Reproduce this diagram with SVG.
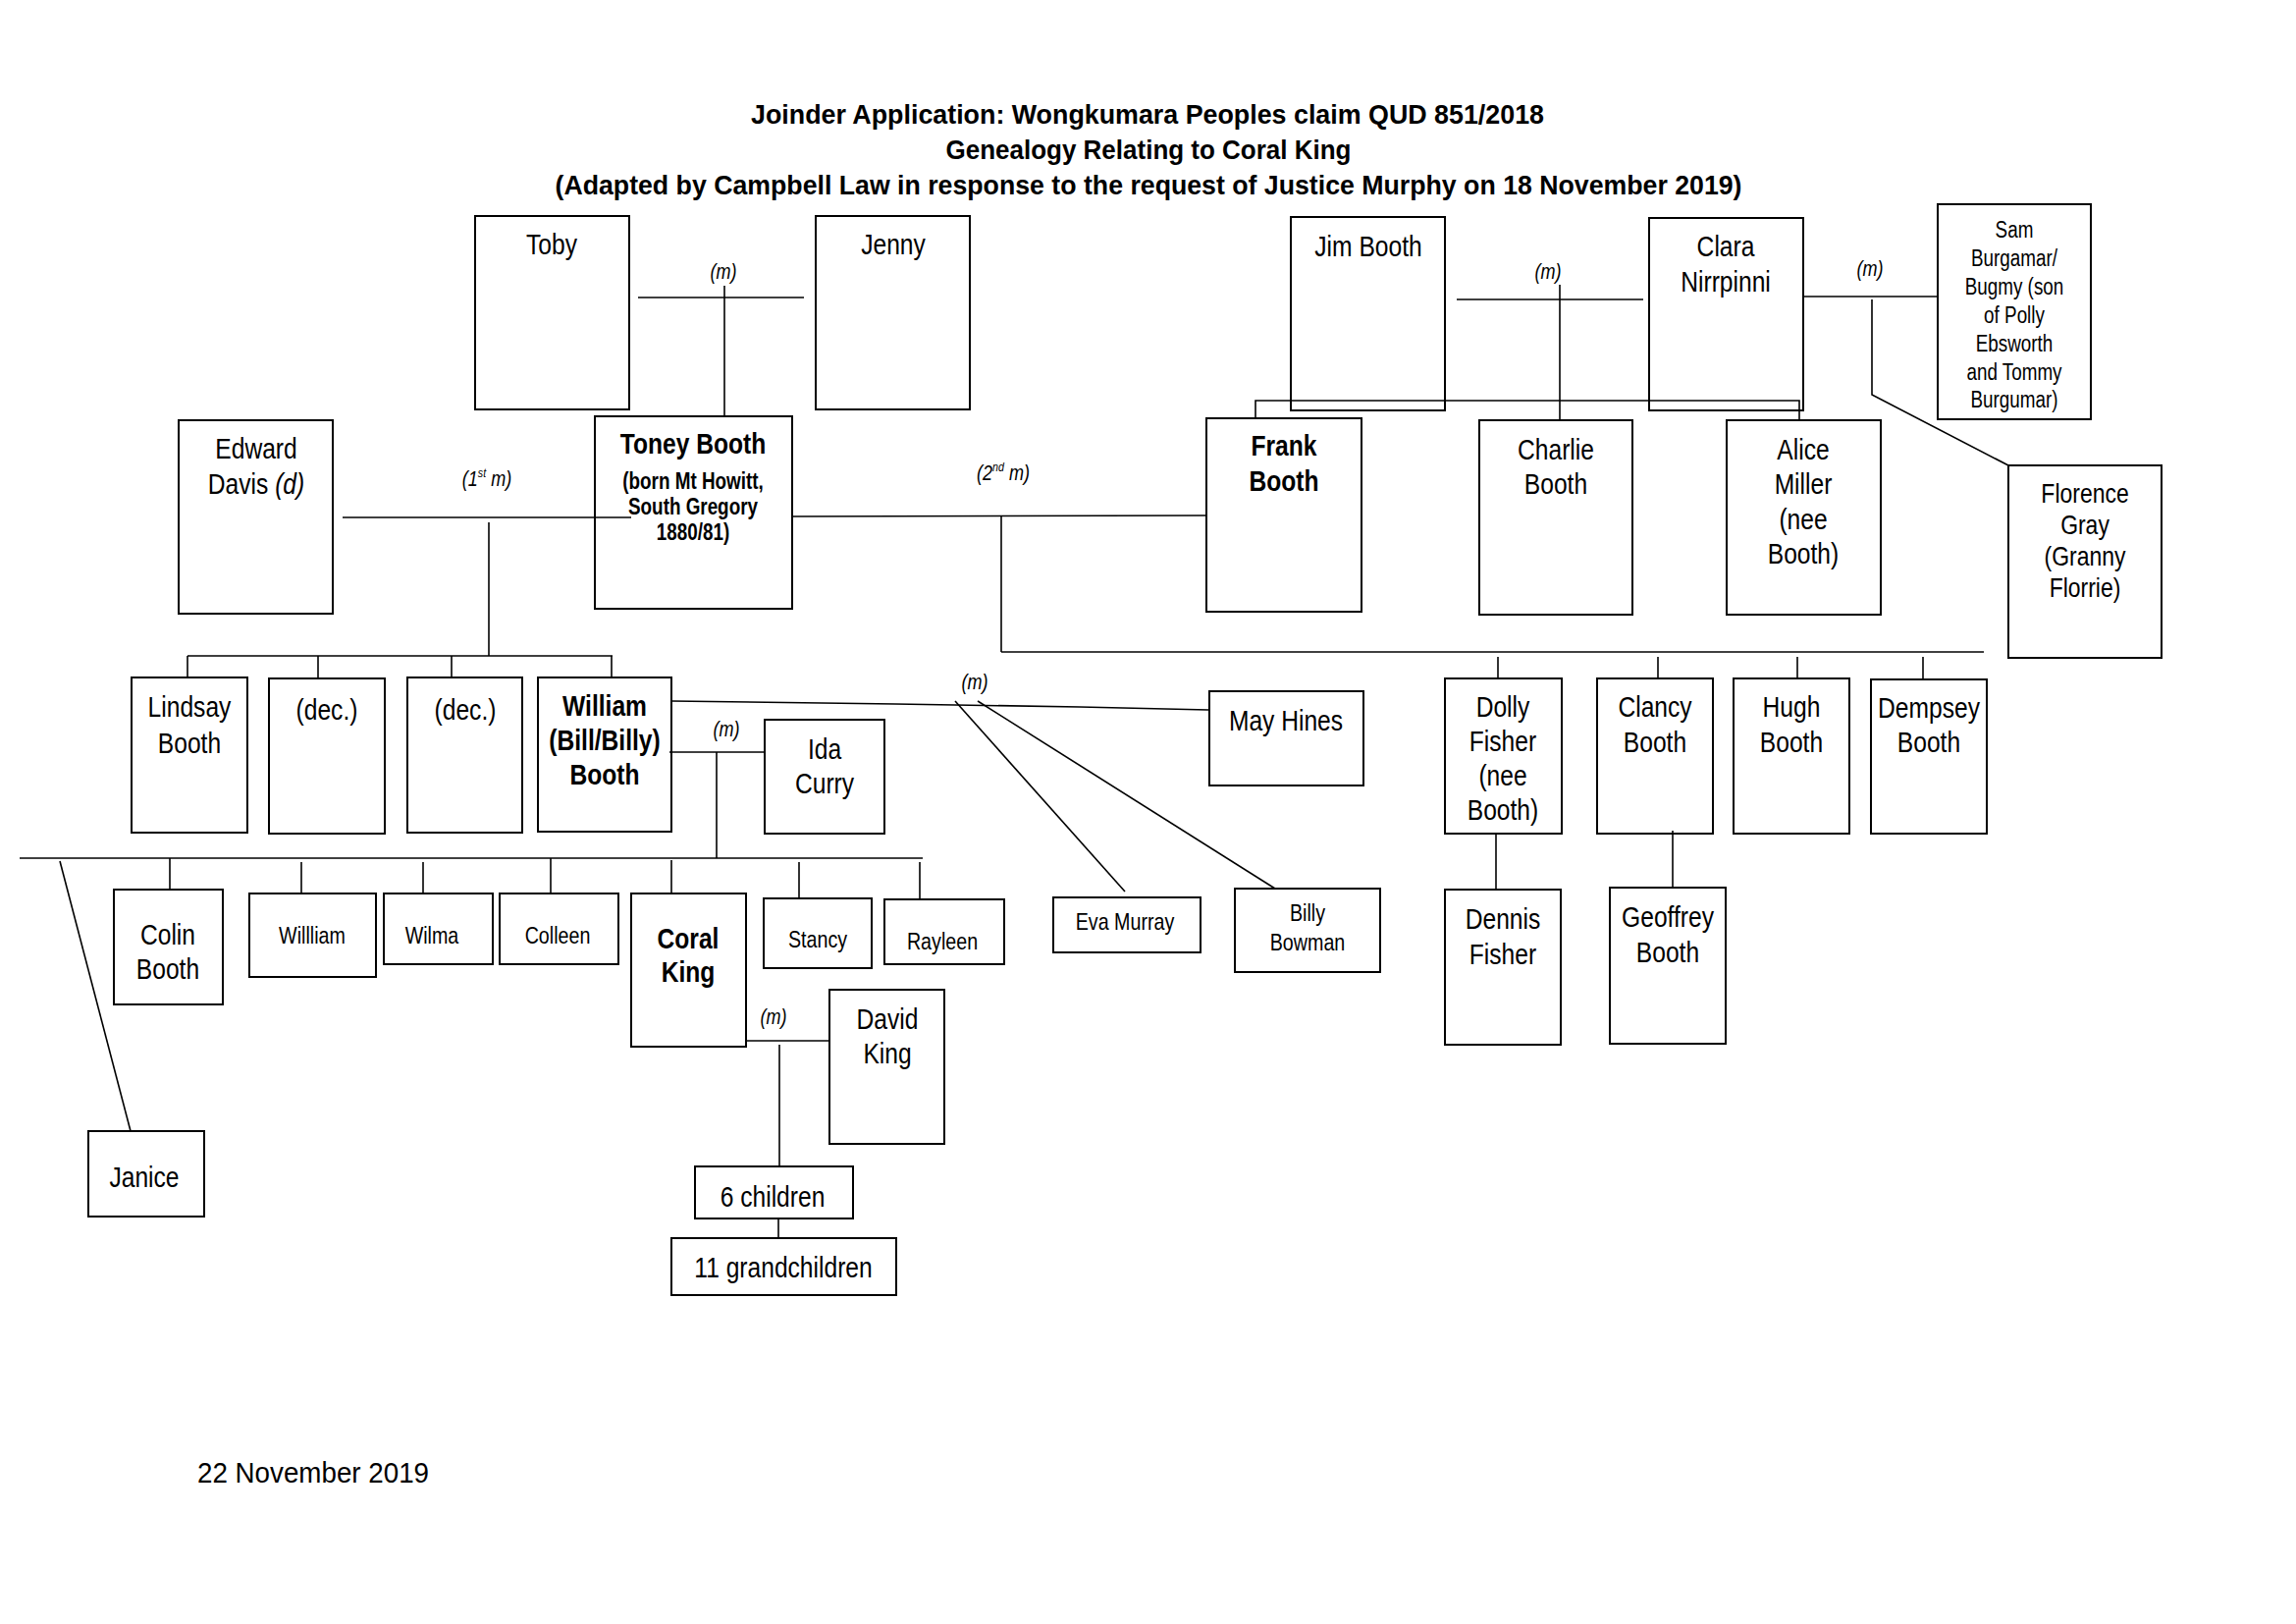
<svg xmlns="http://www.w3.org/2000/svg" width="2339" height="1654" viewBox="0 0 2339 1654">
<style>
.bx{fill:none;stroke:#000;stroke-width:2}
.ln{fill:none;stroke:#000;stroke-width:1.6}
text{font-family:"Liberation Sans",Arial,sans-serif;text-anchor:middle;fill:#000}
.n{font-size:30px}
.f28{font-size:28px}
.sm{font-size:24px}
.xs{font-size:23px}
.b{font-weight:bold}
.m{font-size:22px;font-style:italic}
.ti{font-weight:bold;font-size:28px}
.dt{font-size:30px;text-anchor:start}
</style>
<rect width="2339" height="1654" fill="#fff"/>
<g id="title">
<text class="ti" x="1169" y="126" textLength="808" lengthAdjust="spacingAndGlyphs">Joinder Application: Wongkumara Peoples claim QUD 851/2018</text>
<text class="ti" x="1170" y="162" textLength="413" lengthAdjust="spacingAndGlyphs">Genealogy Relating to Coral King</text>
<text class="ti" x="1170" y="198" textLength="1209" lengthAdjust="spacingAndGlyphs">(Adapted by Campbell Law in response to the request of Justice Murphy on 18 November 2019)</text>
</g>
<g id="connectors">
<line class="ln" x1="650" y1="303" x2="819" y2="303"/>
<line class="ln" x1="738" y1="291" x2="738" y2="424"/>
<text class="m" transform="translate(737,284) scale(.82,1)">(m)</text>
<line class="ln" x1="349" y1="527" x2="643" y2="527"/>
<line class="ln" x1="498" y1="532" x2="498" y2="668"/>
<text class="m" transform="translate(496,495) scale(.82,1)">(1<tspan font-size="13" dy="-9">st</tspan><tspan dy="9"> m)</tspan></text>
<line class="ln" x1="191" y1="668" x2="624" y2="668"/>
<line class="ln" x1="191" y1="668" x2="191" y2="690"/>
<line class="ln" x1="324" y1="668" x2="324" y2="691"/>
<line class="ln" x1="460" y1="668" x2="460" y2="690"/>
<line class="ln" x1="623" y1="668" x2="623" y2="690"/>
<line class="ln" x1="807" y1="526" x2="1229" y2="525"/>
<text class="m" transform="translate(1022,489) scale(.82,1)">(2<tspan font-size="13" dy="-9">nd</tspan><tspan dy="9"> m)</tspan></text>
<line class="ln" x1="1020" y1="525" x2="1020" y2="664"/>
<line class="ln" x1="1020" y1="664" x2="2021" y2="664"/>
<line class="ln" x1="1526" y1="669" x2="1526" y2="691"/>
<line class="ln" x1="1689" y1="669" x2="1689" y2="691"/>
<line class="ln" x1="1831" y1="669" x2="1831" y2="691"/>
<line class="ln" x1="1959" y1="669" x2="1959" y2="692"/>
<line class="ln" x1="1484" y1="305" x2="1674" y2="305"/>
<line class="ln" x1="1589" y1="290" x2="1589" y2="428"/>
<text class="m" transform="translate(1577,284) scale(.82,1)">(m)</text>
<polyline class="ln" points="1279,426 1279,408 1833,408 1833,428"/>
<line class="ln" x1="1837" y1="302" x2="1974" y2="302"/>
<text class="m" transform="translate(1905,281) scale(.82,1)">(m)</text>
<polyline class="ln" points="1907,305 1907,402 2046,474"/>
<polyline class="ln" points="684,714 912,717 1100,720 1231,723"/>
<text class="m" transform="translate(993,702) scale(.82,1)">(m)</text>
<line class="ln" x1="973" y1="714" x2="1146" y2="908"/>
<line class="ln" x1="996" y1="714" x2="1299" y2="905"/>
<line class="ln" x1="682" y1="766" x2="779" y2="766"/>
<text class="m" transform="translate(740,750) scale(.82,1)">(m)</text>
<line class="ln" x1="730" y1="766" x2="730" y2="874"/>
<line class="ln" x1="20" y1="874" x2="940" y2="874"/>
<line class="ln" x1="173" y1="874" x2="173" y2="906"/>
<line class="ln" x1="307" y1="878" x2="307" y2="910"/>
<line class="ln" x1="431" y1="878" x2="431" y2="910"/>
<line class="ln" x1="561" y1="874" x2="561" y2="910"/>
<line class="ln" x1="684" y1="876" x2="684" y2="910"/>
<line class="ln" x1="814" y1="878" x2="814" y2="915"/>
<line class="ln" x1="937" y1="878" x2="937" y2="916"/>
<line class="ln" x1="61" y1="877" x2="133" y2="1152"/>
<line class="ln" x1="760" y1="1060" x2="845" y2="1060"/>
<text class="m" transform="translate(788,1043) scale(.82,1)">(m)</text>
<line class="ln" x1="794" y1="1064" x2="794" y2="1188"/>
<line class="ln" x1="793" y1="1241" x2="793" y2="1261"/>
<line class="ln" x1="1524" y1="849" x2="1524" y2="906"/>
<line class="ln" x1="1704" y1="846" x2="1704" y2="904"/>
</g>
<g id="toby"><rect class="bx" x="484" y="220" width="157" height="197"/><text class="n" transform="translate(562,259) scale(.82,1)">Toby</text></g>
<g id="jenny"><rect class="bx" x="831" y="220" width="157" height="197"/><text class="n" transform="translate(910,259) scale(.82,1)">Jenny</text></g>
<g id="jim"><rect class="bx" x="1315" y="221" width="157" height="197"/><text class="n" transform="translate(1394,261) scale(.82,1)">Jim Booth</text></g>
<g id="clara"><rect class="bx" x="1680" y="222" width="157" height="196"/><text class="n" transform="translate(1758,261) scale(.82,1)">Clara</text><text class="n" transform="translate(1758,297) scale(.82,1)">Nirrpinni</text></g>
<g id="sam"><rect class="bx" x="1974" y="208" width="156" height="219"/>
<text class="xs" transform="translate(2052,242) scale(.82,1)">Sam</text>
<text class="xs" transform="translate(2052,271) scale(.82,1)">Burgamar/</text>
<text class="xs" transform="translate(2052,300) scale(.82,1)">Bugmy (son</text>
<text class="xs" transform="translate(2052,329) scale(.82,1)">of Polly</text>
<text class="xs" transform="translate(2052,358) scale(.82,1)">Ebsworth</text>
<text class="xs" transform="translate(2052,387) scale(.82,1)">and Tommy</text>
<text class="xs" transform="translate(2052,415) scale(.82,1)">Burgumar)</text></g>
<g id="edward"><rect class="bx" x="182" y="428" width="157" height="197"/><text class="n" transform="translate(261,467) scale(.82,1)">Edward</text><text class="n" transform="translate(261,503) scale(.82,1)">Davis <tspan font-style="italic">(d)</tspan></text></g>
<g id="toney"><rect class="bx" x="606" y="424" width="201" height="196"/><text class="n b" transform="translate(706,462) scale(.82,1)">Toney Booth</text><text class="xs b" transform="translate(706,498) scale(.82,1)">(born Mt Howitt,</text><text class="xs b" transform="translate(706,524) scale(.82,1)">South Gregory</text><text class="xs b" transform="translate(706,550) scale(.82,1)">1880/81)</text></g>
<g id="frank"><rect class="bx" x="1229" y="426" width="158" height="197"/><text class="n b" transform="translate(1308,464) scale(.82,1)">Frank</text><text class="n b" transform="translate(1308,500) scale(.82,1)">Booth</text></g>
<g id="charlie"><rect class="bx" x="1507" y="428" width="156" height="198"/><text class="n" transform="translate(1585,468) scale(.82,1)">Charlie</text><text class="n" transform="translate(1585,503) scale(.82,1)">Booth</text></g>
<g id="alice"><rect class="bx" x="1759" y="428" width="157" height="198"/><text class="n" transform="translate(1837,468) scale(.82,1)">Alice</text><text class="n" transform="translate(1837,503) scale(.82,1)">Miller</text><text class="n" transform="translate(1837,539) scale(.82,1)">(nee</text><text class="n" transform="translate(1837,574) scale(.82,1)">Booth)</text></g>
<g id="florence"><rect class="bx" x="2046" y="474" width="156" height="196"/><text class="f28" transform="translate(2124,512) scale(.82,1)">Florence</text><text class="f28" transform="translate(2124,544) scale(.82,1)">Gray</text><text class="f28" transform="translate(2124,576) scale(.82,1)">(Granny</text><text class="f28" transform="translate(2124,608) scale(.82,1)">Florrie)</text></g>
<g id="lindsay"><rect class="bx" x="134" y="690" width="118" height="158"/><text class="n" transform="translate(193,730) scale(.82,1)">Lindsay</text><text class="n" transform="translate(193,767) scale(.82,1)">Booth</text></g>
<g id="dec1"><rect class="bx" x="274" y="691" width="118" height="158"/><text class="n" transform="translate(333,733) scale(.82,1)">(dec.)</text></g>
<g id="dec2"><rect class="bx" x="415" y="690" width="117" height="158"/><text class="n" transform="translate(474,733) scale(.82,1)">(dec.)</text></g>
<g id="william"><rect class="bx" x="548" y="690" width="136" height="157"/><text class="n b" transform="translate(616,729) scale(.82,1)">William</text><text class="n b" transform="translate(616,764) scale(.82,1)">(Bill/Billy)</text><text class="n b" transform="translate(616,799) scale(.82,1)">Booth</text></g>
<g id="ida"><rect class="bx" x="779" y="733" width="122" height="116"/><text class="n" transform="translate(840,773) scale(.82,1)">Ida</text><text class="n" transform="translate(840,808) scale(.82,1)">Curry</text></g>
<g id="may"><rect class="bx" x="1232" y="704" width="157" height="96"/><text class="n" transform="translate(1310,744) scale(.82,1)">May Hines</text></g>
<g id="dolly"><rect class="bx" x="1472" y="691" width="119" height="158"/><text class="n" transform="translate(1531,730) scale(.82,1)">Dolly</text><text class="n" transform="translate(1531,765) scale(.82,1)">Fisher</text><text class="n" transform="translate(1531,800) scale(.82,1)">(nee</text><text class="n" transform="translate(1531,835) scale(.82,1)">Booth)</text></g>
<g id="clancy"><rect class="bx" x="1627" y="691" width="118" height="158"/><text class="n" transform="translate(1686,730) scale(.82,1)">Clancy</text><text class="n" transform="translate(1686,766) scale(.82,1)">Booth</text></g>
<g id="hugh"><rect class="bx" x="1766" y="691" width="118" height="158"/><text class="n" transform="translate(1825,730) scale(.82,1)">Hugh</text><text class="n" transform="translate(1825,766) scale(.82,1)">Booth</text></g>
<g id="dempsey"><rect class="bx" x="1906" y="692" width="118" height="157"/><text class="n" transform="translate(1965,731) scale(.82,1)">Dempsey</text><text class="n" transform="translate(1965,766) scale(.82,1)">Booth</text></g>
<g id="colin"><rect class="bx" x="116" y="906" width="111" height="117"/><text class="n" transform="translate(171,962) scale(.82,1)">Colin</text><text class="n" transform="translate(171,997) scale(.82,1)">Booth</text></g>
<g id="willliam"><rect class="bx" x="254" y="910" width="129" height="85"/><text class="sm" transform="translate(318,961) scale(.82,1)">Willliam</text></g>
<g id="wilma"><rect class="bx" x="391" y="910" width="111" height="72"/><text class="sm" transform="translate(440,961) scale(.82,1)">Wilma</text></g>
<g id="colleen"><rect class="bx" x="509" y="910" width="121" height="72"/><text class="sm" transform="translate(568,961) scale(.82,1)">Colleen</text></g>
<g id="coral"><rect class="bx" x="643" y="910" width="117" height="156"/><text class="n b" transform="translate(701,966) scale(.82,1)">Coral</text><text class="n b" transform="translate(701,1000) scale(.82,1)">King</text></g>
<g id="stancy"><rect class="bx" x="778" y="915" width="110" height="71"/><text class="sm" transform="translate(833,965) scale(.82,1)">Stancy</text></g>
<g id="rayleen"><rect class="bx" x="901" y="916" width="122" height="66"/><text class="sm" transform="translate(960,967) scale(.82,1)">Rayleen</text></g>
<g id="eva"><rect class="bx" x="1073" y="914" width="150" height="56"/><text class="sm" transform="translate(1146,947) scale(.82,1)">Eva Murray</text></g>
<g id="billy"><rect class="bx" x="1258" y="905" width="148" height="85"/><text class="sm" transform="translate(1332,938) scale(.82,1)">Billy</text><text class="sm" transform="translate(1332,968) scale(.82,1)">Bowman</text></g>
<g id="dennis"><rect class="bx" x="1472" y="906" width="118" height="158"/><text class="n" transform="translate(1531,946) scale(.82,1)">Dennis</text><text class="n" transform="translate(1531,982) scale(.82,1)">Fisher</text></g>
<g id="geoffrey"><rect class="bx" x="1640" y="904" width="118" height="159"/><text class="n" transform="translate(1699,944) scale(.82,1)">Geoffrey</text><text class="n" transform="translate(1699,980) scale(.82,1)">Booth</text></g>
<g id="david"><rect class="bx" x="845" y="1008" width="117" height="157"/><text class="n" transform="translate(904,1048) scale(.82,1)">David</text><text class="n" transform="translate(904,1083) scale(.82,1)">King</text></g>
<g id="janice"><rect class="bx" x="90" y="1152" width="118" height="87"/><text class="n" transform="translate(147,1209) scale(.82,1)">Janice</text></g>
<g id="six"><rect class="bx" x="708" y="1188" width="161" height="53"/><text class="n" transform="translate(787,1229) scale(.82,1)">6 children</text></g>
<g id="eleven"><rect class="bx" x="684" y="1261" width="229" height="58"/><text class="n" transform="translate(798,1301) scale(.82,1)">11 grandchildren</text></g>
<text class="dt" x="201" y="1510" textLength="236" lengthAdjust="spacingAndGlyphs">22 November 2019</text>
</svg>
